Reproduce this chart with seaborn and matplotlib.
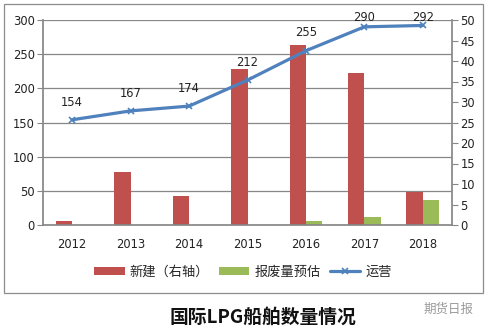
import matplotlib
matplotlib.use("Agg")
import matplotlib.pyplot as plt
import matplotlib.transforms as mtransforms
from matplotlib.patches import Rectangle, Patch
from matplotlib.lines import Line2D
import seaborn as sns
import pandas as pd
import numpy as np

# ---- data ----
years = ["2012", "2013", "2014", "2015", "2016", "2017", "2018"]
new_build = [1, 13, 7, 38, 44, 37, 8]          # 新建（右轴）
scrap_est = [0, 0, 0, 0, 1, 2, 6]              # 报废量预估 (right axis)
operating = [154, 167, 174, 212, 255, 290, 292]  # 运营 (left axis)
series_names = ["新建（右轴）", "报废量预估", "运营"]
left_ticks = [0, 50, 100, 150, 200, 250, 300]
right_ticks = [0, 5, 10, 15, 20, 25, 30, 35, 40, 45, 50]
title = "国际LPG船舶数量情况"
watermark = "期货日报"

RED = "#C0504D"
GREEN = "#9BBB59"
BLUE = "#4F81BD"
GRID = "#878787"

sns.set_theme(style="white")
plt.rcParams["font.family"] = ["DejaVu Sans", "Noto Sans CJK SC"]

fig = plt.figure(figsize=(4.88, 3.31), dpi=100)
W, H = 488, 331

# outer frame
fig.patches.append(Rectangle((4 / W, 1 - 293 / H), 479 / W, 289 / H,
                             transform=fig.transFigure, fill=False,
                             edgecolor="#8C8C8C", linewidth=0.9))

ax_bar = fig.add_axes([43 / W, 1 - 225 / H, 409 / W, 205 / H])
ax_line = ax_bar.twinx()

# bars (right axis scale)
df = pd.DataFrame({
    "year": years * 2,
    "series": [series_names[0]] * len(years) + [series_names[1]] * len(years),
    "value": new_build + scrap_est,
})
sns.barplot(data=df, x="year", y="value", hue="series", order=years,
            hue_order=series_names[:2], palette=[RED, GREEN], ax=ax_bar,
            width=0.56, gap=0, saturation=1, legend=False, errorbar=None,
            linewidth=0, zorder=2)
ax_bar.set_ylim(right_ticks[0], right_ticks[-1])
ax_bar.set_xlim(-0.5, len(years) - 0.5)

# line (left axis scale)
ax_line.set_ylim(left_ticks[0], left_ticks[-1])
df_line = pd.DataFrame({"year": years, "value": operating})
sns.pointplot(data=df_line, x="year", y="value", order=years, ax=ax_line,
              color=BLUE, markers="x", linestyles="-", errorbar=None,
              markersize=5, linewidth=2.3, markeredgewidth=1.2)
ax_line.set_xlim(-0.5, len(years) - 0.5)

# gridlines following the left scale, drawn behind the bars
blend = mtransforms.blended_transform_factory(ax_bar.transAxes, ax_line.transData)
for t in left_ticks[1:]:
    ax_bar.plot([0, 1], [t, t], transform=blend, color=GRID, linewidth=0.9,
                zorder=0.5)

# data labels
for i, v in enumerate(operating):
    ly = min(v + 26, left_ticks[-1] + 4)
    ax_line.text(i, ly, str(v), ha="center", va="center", fontsize=8.3,
                 color="#222222", clip_on=False)

# axes styling
for a in (ax_bar, ax_line):
    for s in a.spines.values():
        s.set_visible(False)
    a.set_xlabel("")
    a.set_ylabel("")

ax_bar.spines["bottom"].set_visible(True)
ax_bar.spines["bottom"].set_color(GRID)
ax_line.spines["left"].set_visible(True)
ax_line.spines["left"].set_color(GRID)
ax_line.spines["right"].set_visible(True)
ax_line.spines["right"].set_color(GRID)

# right axis = bars
ax_bar.yaxis.tick_right()
ax_bar.set_yticks(right_ticks)
ax_bar.set_yticklabels([str(t) for t in right_ticks])
ax_bar.tick_params(axis="y", right=True, left=False, length=4, width=0.8,
                   color=GRID, labelsize=8.3, pad=2, labelcolor="#222222",
                   direction="out")

# left axis = line
ax_line.yaxis.tick_left()
ax_line.set_yticks(left_ticks)
ax_line.set_yticklabels([str(t) for t in left_ticks])
ax_line.tick_params(axis="y", left=True, right=False, length=4, width=0.8,
                    color=GRID, labelsize=8.3, pad=2, labelcolor="#222222",
                    direction="out")

# x axis: tick marks at category boundaries, labels at centers
ax_bar.set_xticks(np.arange(len(years) + 1) - 0.5)
ax_bar.set_xticklabels([""] * (len(years) + 1))
ax_bar.set_xticks(np.arange(len(years)), minor=True)
ax_bar.set_xticklabels(years, minor=True)
ax_bar.tick_params(axis="x", which="major", bottom=True, length=4, width=0.8,
                   color=GRID, direction="out")
ax_bar.tick_params(axis="x", which="minor", bottom=True, length=0,
                   labelsize=8.3, pad=9, labelcolor="#222222")
ax_line.set_xticks([])
ax_bar.grid(False)
ax_line.grid(False)

# legend
handles = [Patch(facecolor=RED, edgecolor="none"),
           Patch(facecolor=GREEN, edgecolor="none"),
           Line2D([0], [0], color=BLUE, linewidth=2.3, marker="x",
                  markersize=5, markeredgewidth=1.2)]
fig.legend(handles, series_names, loc="center", ncol=3,
           bbox_to_anchor=(243 / W, 1 - 272 / H), frameon=False,
           prop={"family": ["Noto Sans CJK SC", "DejaVu Sans"], "size": 9.5},
           handlelength=2.3, handleheight=0.55, handletextpad=0.4,
           columnspacing=0.7)

# title and watermark
fig.text(263 / W, 1 - 317 / H, title, ha="center", va="center",
         fontsize=13.5, fontweight="bold",
         family=["Noto Sans CJK SC", "DejaVu Sans"], color="#111111")
fig.text(449 / W, 1 - 309 / H, watermark, ha="center", va="center",
         fontsize=9, family=["Noto Sans CJK SC", "DejaVu Sans"],
         color="#9A9A9A")

fig.savefig("out.png", dpi=100)
